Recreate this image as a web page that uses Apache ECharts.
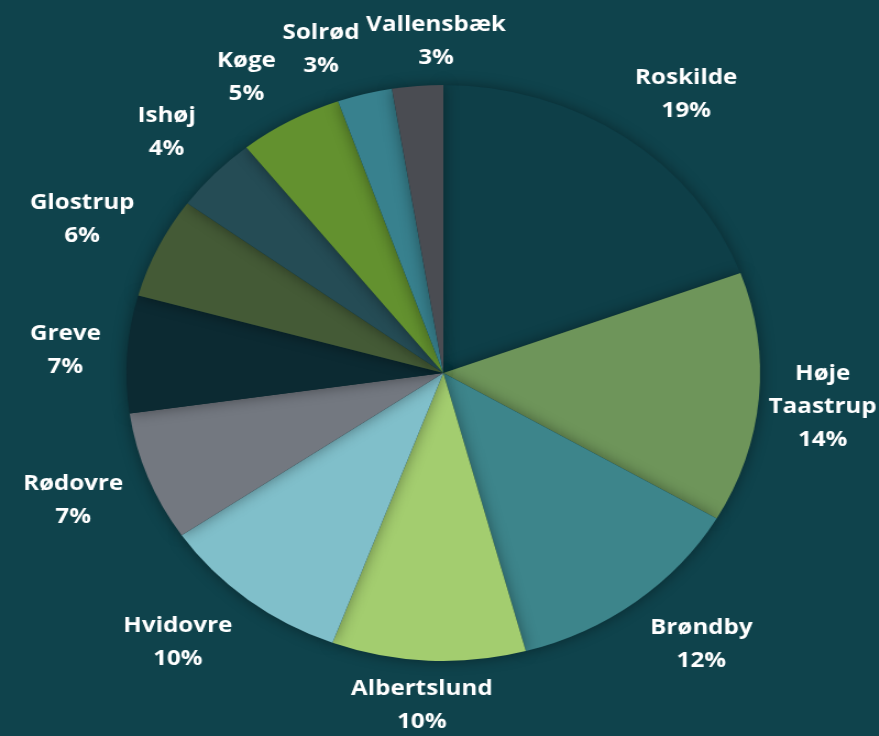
<!DOCTYPE html>
<html>
<head>
<meta charset="utf-8">
<script src="https://cdn.jsdelivr.net/npm/echarts@6/dist/echarts.min.js"></script>
<style>
  html, body { margin: 0; padding: 0; background: #0f434c; overflow: hidden; }
  #wrap { width: 879px; height: 736px; overflow: hidden; }
  /* the source picture is stretched sideways, so draw narrower and widen */
  #pie { width: 799px; height: 736px; transform: scaleX(1.1); transform-origin: 0 0; }
</style>
</head>
<body>
<div id="wrap"><div id="pie"></div></div>
<script>
var names = ['Roskilde', 'Høje\nTaastrup', 'Brøndby', 'Albertslund', 'Hvidovre', 'Rødovre',
             'Greve', 'Glostrup', 'Ishøj', 'Køge', 'Solrød', 'Vallensbæk'];
var shares = [19.4, 14.1, 12.4, 9.9, 9.8, 7.3, 6.6, 5.7, 4.3, 5.3, 2.8, 2.6];
var colors = ['#0e3f48', '#6e955a', '#3d858b', '#a3cd6f', '#80bfca', '#737880',
              '#0c2a32', '#445a36', '#254c55', '#63912f', '#38818e', '#4a4c52'];

var cx = 403, cy = 373, r = 288, gapX = 24, gapY = 12;
var chartW = 799, lineH = 33, font = 'bold 22px "Open Sans"';
var total = shares.reduce(function (a, b) { return a + b; }, 0);

function clamp(v) { return Math.max(-1, Math.min(1, v)); }
function labelText(i) { return names[i] + '\n' + Math.round(shares[i] / total * 100) + '%'; }

// measure label boxes up front so neighbours can be kept apart
var ctx = document.createElement('canvas').getContext('2d');
ctx.font = font;
var boxes = names.map(function (n, i) {
    var lines = labelText(i).split('\n');
    var w = Math.max.apply(null, lines.map(function (t) { return ctx.measureText(t).width; }));
    var before = 0;
    for (var k = 0; k < i; k++) before += shares[k];
    var mid = (before + shares[i] / 2) / total * Math.PI * 2;
    var s = Math.sin(mid), c = Math.cos(mid);
    var hw = w / 2, hh = lines.length * lineH / 2;
    // outside-end: near edge of the box clears the rim
    var x = cx + (r + gapX) * s + hw * clamp(1.6 * s);
    var y = cy - (r + gapY) * c - hh * clamp(1.6 * c);
    x = Math.min(x, chartW - hw - 2);
    x = Math.max(x, hw + 2);
    return { x: x, y: y, hw: hw, hh: hh };
});
for (var pass = 0; pass < 10; pass++) {
    for (var i = 0; i < boxes.length; i++) {
        var a = boxes[i], b = boxes[(i + 1) % boxes.length];
        var ox = a.hw + b.hw + 6 - Math.abs(a.x - b.x);
        var oy = a.hh + b.hh - Math.abs(a.y - b.y);
        if (ox > 0 && oy > 0) {
            var dir = a.x < b.x ? 1 : -1;
            a.x -= dir * ox / 2;
            b.x += dir * ox / 2;
        }
    }
}

var myChart = echarts.init(document.getElementById('pie'));
var option = {
    backgroundColor: '#0f434c',
    animation: false,
    series: [{
        type: 'pie',
        center: [cx, cy],
        radius: [0, r],
        startAngle: 90,
        clockwise: true,
        avoidLabelOverlap: false,
        itemStyle: {
            shadowBlur: 14,
            shadowColor: 'rgba(0,0,0,0.4)'
        },
        label: {
            show: true,
            position: 'outside',
            overflow: 'none',
            color: '#ffffff',
            fontFamily: 'Open Sans',
            fontWeight: 'bold',
            fontSize: 22,
            lineHeight: lineH,
            align: 'center',
            formatter: function (p) {
                return p.name + '\n' + Math.round(p.percent) + '%';
            }
        },
        labelLine: { show: false },
        labelLayout: function (params) {
            var b = boxes[params.dataIndex];
            return { x: b.x, y: b.y, align: 'center', verticalAlign: 'middle' };
        },
        data: names.map(function (n, i) {
            return { name: n, value: shares[i], itemStyle: { color: colors[i] } };
        })
    }]
};
myChart.setOption(option);
</script>
</body>
</html>
